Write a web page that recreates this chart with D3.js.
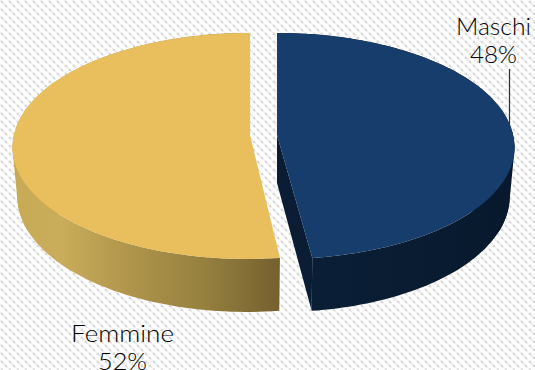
<!DOCTYPE html>
<html>
<head>
<meta charset="utf-8">
<script src="https://cdn.jsdelivr.net/npm/d3@7"></script>
<style>
html,body{margin:0;padding:0;background:#fff;overflow:hidden}
svg{display:block}
text{font-family:Lato,"Open Sans",sans-serif;font-weight:300;fill:#000}
</style>
</head>
<body>
<svg id="chart" width="535" height="370"></svg>
<script>
// Gender split shown as an exploded pseudo-3D pie.
const categories = ["Maschi", "Femmine"];
const shares = [48, 52];
const topColors = ["#163d6b", "#e8bf5c"];
const sideStops = [
  [[0, "#0a1f37"], [1, "#08192d"]],
  [[0, "#c8aa55"], [0.18, "#c9ad5a"], [0.48, "#ab9149"], [0.72, "#95803f"], [1, "#75602f"]]
];
const sideExtent = [[277, 514], [13, 280]];
const labelSpots = [[493.5, 35, 63], [122.5, 342, 370]];
const labelWidths = [[75, 47], [103, 49]];

const width = 535, height = 370;
const svg = d3.select("#chart");
const defs = svg.append("defs");

// Dotted diagonal hatch for the page background.
const hatch = defs.append("pattern").attr("id", "hatch")
  .attr("width", 8).attr("height", 8).attr("patternUnits", "userSpaceOnUse");
hatch.append("rect").attr("width", 8).attr("height", 8).attr("fill", "#fff");
[[0, "#f2f2f2", 3], [2, "#eeeeee", 3], [4, "#f2f2f2", 3], [6, "#eeeeee", 3]].forEach(([p, c, s]) => {
  hatch.append("rect").attr("x", p).attr("y", p).attr("width", s).attr("height", s).attr("fill", c);
});
[[1, "#d8d8d8"], [5, "#d8d8d8"]].forEach(([p, c]) => {
  hatch.append("rect").attr("x", p).attr("y", p).attr("width", 2).attr("height", 2).attr("fill", c);
});
svg.append("rect").attr("width", width).attr("height", height).attr("fill", "url(#hatch)");

// Perspective model: v runs from -1 at the back of the disc to +1 at the front.
const radius = 236, horizonY = 135, flatRy = 113;
const viewX = 263, kx = 0.1, ky = 0.097;
const apexX = [277, 250];
const depth = v => 48 + 5 * v;

function project(cx, angle, r, lowered) {
  const u = Math.sin(angle) * r, v = -Math.cos(angle) * r;
  const shrink = lowered ? 0.98 : 1;
  const x = cx + radius * u * (1 + kx * v) * shrink + (cx - viewX) * 2 * kx * Math.max(v, 0);
  const y = horizonY + flatRy * v * (1 + ky * v) + (lowered ? depth(v) : 0);
  return [x, y];
}

const pie = d3.pie().sort(null).value(d => d);
const arcs = pie(shares);
const line = d3.line();
const rim = (cx, a, lowered) =>
  d3.range(0, 121).map(i => project(cx, a.startAngle + (a.endAngle - a.startAngle) * i / 120, 1, lowered));

// Draw the larger slice first, then the detached one.
[1, 0].forEach(i => {
  const a = arcs[i], cx = apexX[i];
  const grad = defs.append("linearGradient").attr("id", "side" + i)
    .attr("gradientUnits", "userSpaceOnUse")
    .attr("x1", sideExtent[i][0]).attr("x2", sideExtent[i][1]).attr("y1", 0).attr("y2", 0);
  grad.selectAll("stop").data(sideStops[i]).join("stop")
    .attr("offset", d => d[0]).attr("stop-color", d => d[1]);

  const upper = rim(cx, a, false), lower = rim(cx, a, true);
  const g = svg.append("g").attr("class", "slice");

  // Outer wall of the slice.
  g.append("path").attr("d", line(upper.concat(lower.slice().reverse())) + "Z")
    .attr("fill", `url(#side${i})`);

  // Tangent band that closes the wall where the disc turns away from the viewer.
  const band = upper.concat(lower).filter(p => p[1] > horizonY - 5 && p[1] < horizonY + 100 &&
    (p[0] < 60 || p[0] > 470));
  if (band.length > 2) {
    g.append("path").attr("d", line(d3.polygonHull(band)) + "Z").attr("fill", `url(#side${i})`);
  }

  // Exposed cut face of the detached slice.
  if (i === 0) {
    const end = a.endAngle;
    const face = [project(cx, end, 0, false), project(cx, end, 0, true),
                  project(cx, end, 1, true), project(cx, end, 1, false)];
    g.append("path").attr("d", line(face) + "Z").attr("fill", "#0a1d34");
  }

  // Top face.
  const top = [project(cx, a.startAngle, 0, false)].concat(upper);
  g.append("path").attr("d", line(top) + "Z").attr("fill", topColors[i]);
});

// Leader line for the upper label.
svg.append("line").attr("x1", 509.5).attr("x2", 509.5).attr("y1", 69).attr("y2", 125)
  .attr("stroke", "#333").attr("stroke-width", 1.2);

// Two-line labels: name, then share.
categories.forEach((name, i) => {
  const [x, y1, y2] = labelSpots[i];
  const size = 23.5;
  svg.append("text").attr("x", x).attr("y", y1).attr("text-anchor", "middle")
    .attr("font-size", size).attr("textLength", labelWidths[i][0])
    .attr("lengthAdjust", "spacingAndGlyphs").text(name);
  svg.append("text").attr("x", x).attr("y", y2).attr("text-anchor", "middle")
    .attr("font-size", size).attr("textLength", labelWidths[i][1])
    .attr("lengthAdjust", "spacingAndGlyphs").text(shares[i] + "%");
});
</script>
</body>
</html>
